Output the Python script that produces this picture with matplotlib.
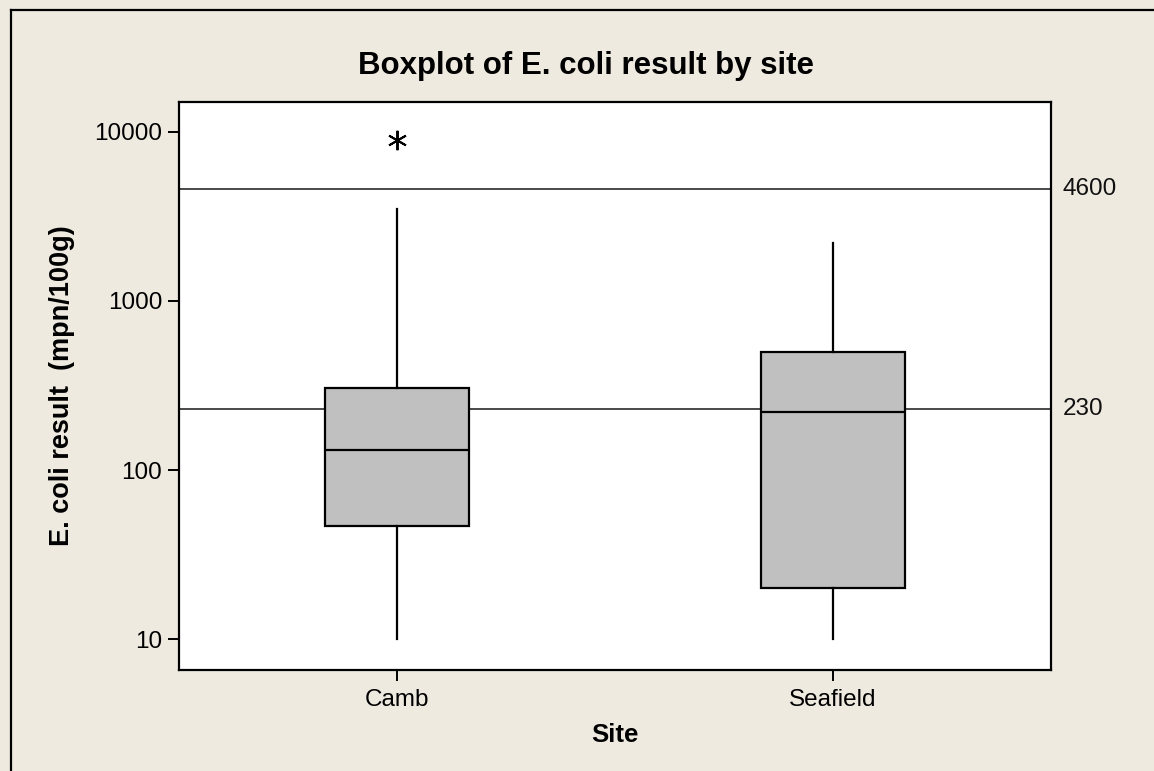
import matplotlib
matplotlib.use('Agg')
import matplotlib.pyplot as plt
from matplotlib.lines import Line2D
from matplotlib.ticker import NullLocator, FixedLocator, FixedFormatter

# ---------- data ----------------------------------------------------------
sites = ['Camb', 'Seafield']
q1 = [47, 20]
median = [132, 220]
q3 = [307, 500]
whisker_low = [10, 10]
whisker_high = [3500, 2200]
outliers = [[9000], []]

ref_values = [4600, 230]
y_ticks = [10, 100, 1000, 10000]

# ---------- style -----------------------------------------------------------
plt.rcParams['font.family'] = ['Liberation Sans', 'DejaVu Sans']
bg = '#EEEAE0'

fig = plt.figure(figsize=(11.54, 7.71), dpi=100, facecolor=bg)
ax = fig.add_axes([0.1551, 0.131, 0.7556, 0.7367])
ax.set_facecolor('white')

# reference lines behind the boxes
for v in ref_values:
    ax.axhline(v, color='#3a3a3a', lw=1.3, zorder=1)
    ax.text(1.013, v, str(v), transform=ax.get_yaxis_transform(),
            ha='left', va='center', fontsize=17.5, color='#111111')

stats = []
for i, s in enumerate(sites):
    stats.append(dict(label=s, q1=q1[i], med=median[i], q3=q3[i],
                      whislo=whisker_low[i], whishi=whisker_high[i],
                      fliers=outliers[i]))

ax.bxp(stats, positions=[1, 2], widths=0.33, patch_artist=True,
       showcaps=False, zorder=2,
       boxprops=dict(facecolor='#C0C0C0', edgecolor='black', linewidth=1.6),
       medianprops=dict(color='black', linewidth=1.6),
       whiskerprops=dict(color='black', linewidth=1.6),
       flierprops=dict(marker=(6, 2, 0), markersize=14, markeredgecolor='black',
                       markeredgewidth=1.4, markerfacecolor='none'))

ax.set_yscale('log')
ax.set_ylim(6.59, 15000)
ax.set_xlim(0.5, 2.5)
ax.yaxis.set_major_locator(FixedLocator(y_ticks))
ax.yaxis.set_major_formatter(FixedFormatter([str(t) for t in y_ticks]))
ax.yaxis.set_minor_locator(NullLocator())
ax.set_xticks([1, 2])
ax.set_xticklabels(sites)

ax.tick_params(axis='both', direction='out', length=8, width=1.4,
               labelsize=17.5, colors='black', pad=4)
ax.tick_params(axis='x', pad=6)
for sp in ax.spines.values():
    sp.set_linewidth(1.6)
    sp.set_color('black')

ax.set_xlabel('Site', fontsize=18.5, fontweight='bold', labelpad=8)
ax.set_ylabel('E. coli result  (mpn/100g)', fontsize=19.5, fontweight='bold',
              labelpad=14)

fig.text(586 / 1154, 1 - 66 / 771, 'Boxplot of E. coli result by site',
         ha='center', va='center', fontsize=22.5, fontweight='bold')

# outer frame (left and top edges visible)
fig.add_artist(Line2D([11 / 1154, 11 / 1154], [0, 1 - 10 / 771],
                      transform=fig.transFigure, color='black', lw=1.6))
fig.add_artist(Line2D([11 / 1154, 1], [1 - 10 / 771, 1 - 10 / 771],
                      transform=fig.transFigure, color='black', lw=1.6))

fig.savefig('out.png', dpi=100, facecolor=bg)
